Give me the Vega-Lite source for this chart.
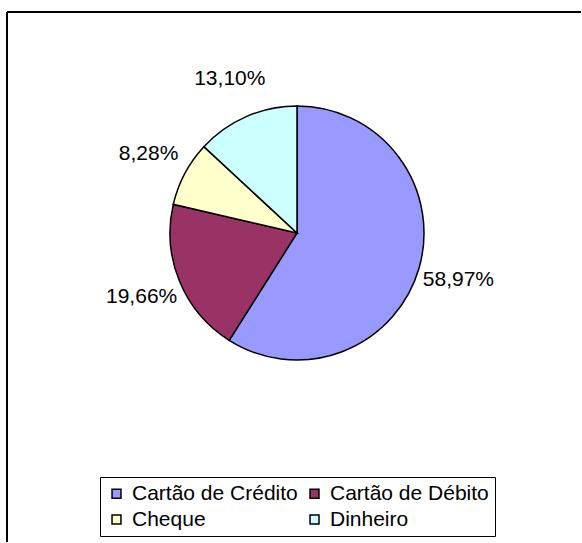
{
  "$schema": "https://vega.github.io/schema/vega-lite/v6.json",
  "autosize": "none",
  "padding": {"left": 7, "top": 12, "right": 0, "bottom": 0},
  "width": 574,
  "height": 530,
  "background": "white",
  "view": {"stroke": "black", "strokeWidth": 2, "fill": "white", "strokeDash": [574, 1104, 530, 0]},
  "config": {
    "font": "Liberation Sans"
  },
  "data": {
    "values": [
      {"forma": "Cartão de Crédito", "pct": 58.97, "label": "58,97%"},
      {"forma": "Cartão de Débito", "pct": 19.66, "label": "19,66%"},
      {"forma": "Cheque", "pct": 8.28, "label": "8,28%"},
      {"forma": "Dinheiro", "pct": 13.10, "label": "13,10%"}
    ]
  },
  "encoding": {
    "theta": {"field": "pct", "type": "quantitative", "stack": true},
    "order": {"field": "forma", "type": "nominal"}
  },
  "layer": [
    {
      "mark": {"type": "arc", "x": 290, "y": 221, "outerRadius": 127, "stroke": "black", "strokeWidth": 1.5},
      "encoding": {
        "color": {
          "field": "forma",
          "type": "nominal",
          "scale": {
            "domain": ["Cartão de Crédito", "Cartão de Débito", "Cheque", "Dinheiro"],
            "range": ["#9999FF", "#993366", "#FFFFCC", "#CCFFFF"]
          },
          "legend": {
            "title": null,
            "orient": "none",
            "legendX": 93,
            "legendY": 465,
            "columns": 2,
            "direction": "horizontal",
            "strokeColor": "black",
            "padding": 6,
            "symbolType": "square",
            "symbolSize": 80,
            "symbolStrokeColor": "black",
            "symbolStrokeWidth": 1.5,
            "labelFontSize": 21,
            "labelColor": "black",
            "labelFont": "Liberation Sans",
            "labelOffset": 5,
            "labelLimit": 300,
            "columnPadding": 6,
            "rowPadding": 4
          }
        }
      }
    },
    {
      "mark": {"type": "text", "x": 290, "y": 221, "radius": 168, "fontSize": 21, "font": "Liberation Sans", "color": "black"},
      "encoding": {
        "text": {"field": "label"}
      }
    }
  ]
}
